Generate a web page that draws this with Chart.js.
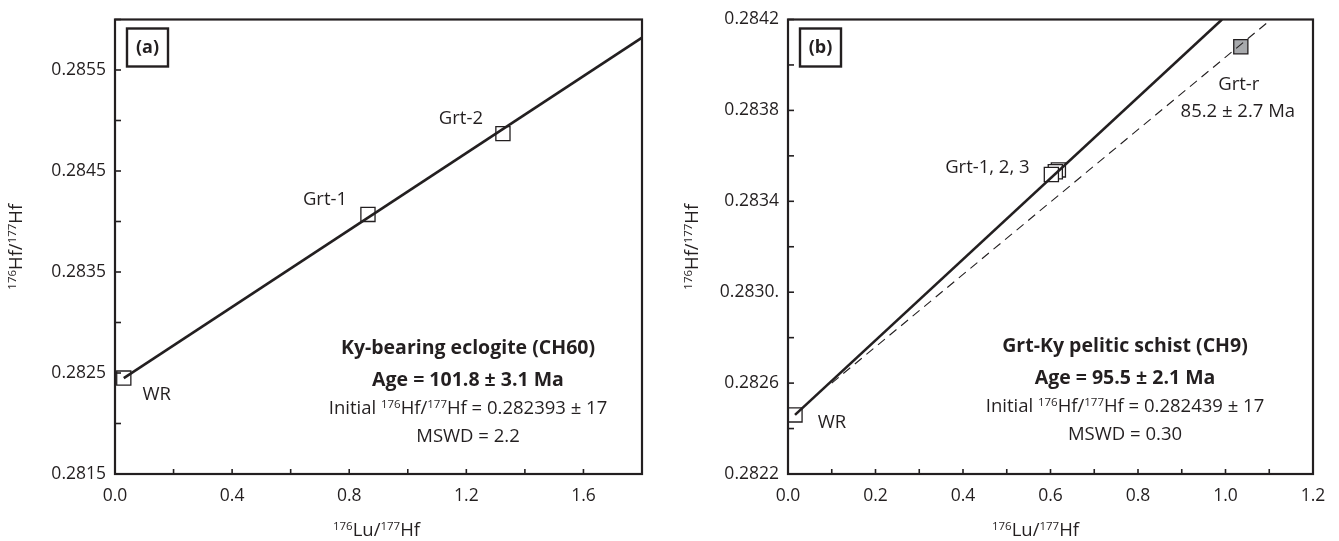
<!DOCTYPE html>
<html>
<head>
<meta charset="utf-8">
<style>
  html, body { margin: 0; padding: 0; background: #fff; }
  #wrap { position: relative; width: 1339px; height: 541px; }
  #wrap canvas { position: absolute; top: 0; }
</style>
</head>
<body>
<div id="wrap">
  <canvas id="chartA" width="660" height="541" style="left:0px"></canvas>
  <canvas id="chartB" width="679" height="541" style="left:660px"></canvas>
</div>

<script src="https://cdn.jsdelivr.net/npm/chart.js"></script>

<script>
  // panel (a): Ky-bearing eclogite
  const wrA = [{ x: 0.03, y: 0.28245 }]
  const grtA = [{ x: 0.864, y: 0.28407 }, { x: 1.325, y: 0.28487 }]
  const grtALabels = ['Grt-1', 'Grt-2']
  const isoA = [{ x: 0.03, y: 0.28245 }, { x: 1.8, y: 0.28582 }]

  // panel (b): Grt-Ky pelitic schist
  const wrB = [{ x: 0.016, y: 0.28246 }]
  // drawn back to front: Grt-3, Grt-2, Grt-1
  const grtB = [{ x: 0.618, y: 0.283538 }, { x: 0.611, y: 0.28353 }, { x: 0.602, y: 0.283518 }]
  const grtR = [{ x: 1.035, y: 0.28408 }]
  const isoB = [{ x: 0.016, y: 0.28246 }, { x: 0.992, y: 0.2842 }]
  const isoR = [{ x: 0.1, y: 0.2826 }, { x: 1.104, y: 0.2842 }]

  const INK = '#231f20'
  const FONT = "'Open Sans', 'Noto Sans', sans-serif"

  // text drawn with superscripts: parts = [[text, isSup], ...]
  function richText(ctx, parts, x, y, size, bold, align) {
    const w = bold ? 'bold ' : ''
    let total = 0
    parts.forEach(p => {
      ctx.font = w + (p[1] ? size * 0.62 : size) + 'px ' + FONT
      total += ctx.measureText(p[0]).width
    })
    let cx = align === 'left' ? x : x - total / 2
    ctx.textAlign = 'left'
    ctx.textBaseline = 'alphabetic'
    parts.forEach(p => {
      ctx.font = w + (p[1] ? size * 0.62 : size) + 'px ' + FONT
      ctx.fillText(p[0], cx, p[1] ? y - size * 0.33 : y)
      cx += ctx.measureText(p[0]).width
    })
  }

  function plainText(ctx, s, x, y, size, bold) {
    ctx.font = (bold ? 'bold ' : '') + size + 'px ' + FONT
    ctx.textAlign = 'center'
    ctx.textBaseline = 'middle'
    ctx.fillText(s, x, y)
  }

  const hfTitle = [['176', true], ['Hf/', false], ['177', true], ['Hf', false]]
  const luTitle = [['176', true], ['Lu/', false], ['177', true], ['Hf', false]]

  // frame, inward tick marks, axis titles, panel letter
  const framePlugin = {
    id: 'frame',
    afterDraw(chart, args, opts) {
      const ctx = chart.ctx
      const a = chart.chartArea
      const xs = chart.scales.x, ys = chart.scales.y
      ctx.save()
      ctx.strokeStyle = INK
      ctx.fillStyle = INK
      ctx.lineWidth = 1.6
      xs.ticks.forEach(t => {
        const px = xs.getPixelForValue(t.value)
        ctx.beginPath(); ctx.moveTo(px, a.bottom); ctx.lineTo(px, a.bottom - 5); ctx.stroke()
      })
      ys.ticks.forEach(t => {
        const py = ys.getPixelForValue(t.value)
        ctx.beginPath(); ctx.moveTo(a.left, py); ctx.lineTo(a.left + 6, py); ctx.stroke()
      })
      ctx.lineWidth = 2.2
      ctx.strokeRect(a.left, a.top, a.right - a.left, a.bottom - a.top)

      // panel letter box
      ctx.lineWidth = 2.4
      ctx.strokeRect(a.left + 12, a.top + 9, 41, 38)
      plainText(ctx, opts.letter, a.left + 32.5, a.top + 28, 18, true)

      // axis titles
      richText(ctx, luTitle, (a.left + a.right) / 2 + opts.xTitleDx, 536, 18.5, false)
      ctx.save()
      ctx.translate(opts.yTitleX, (a.top + a.bottom) / 2)
      ctx.rotate(-Math.PI / 2)
      richText(ctx, hfTitle, 0, 6, 18.5, false)
      ctx.restore()

      // point labels and age summary
      opts.labels.forEach(l => {
        const px = xs.getPixelForValue(l.x) + l.dx
        const py = ys.getPixelForValue(l.y) + l.dy
        plainText(ctx, l.text, px, py, 18.5, false)
      })
      const s = opts.summary
      plainText(ctx, s[0], s.cx, s.y0, 19.5, true)
      plainText(ctx, s[1], s.cx, s.y0 + 32, 19.5, true)
      richText(ctx, s[2], s.cx, s.y0 + 66, 18.5, false)
      plainText(ctx, s[3], s.cx, s.y0 + 89, 18.5, false)
      ctx.restore()
    }
  }

  function squares(data, fill) {
    return {
      data: data,
      pointStyle: 'rect',
      pointRadius: 10,
      pointHoverRadius: 10,
      pointBackgroundColor: fill,
      pointBorderColor: INK,
      pointBorderWidth: 1.3,
      showLine: false,
      clip: false
    }
  }

  function line(data, dash, width) {
    return {
      data: data,
      showLine: true,
      pointRadius: 0,
      borderColor: INK,
      borderWidth: width,
      borderDash: dash,
      fill: false
    }
  }

  function axes(xMin, xMax, xStep, xLabel, yMin, yMax, yStep, yLabel, yWidth) {
    return {
      x: {
        type: 'linear', min: xMin, max: xMax,
        grid: { display: false, drawTicks: false },
        border: { display: false },
        afterFit: s => { s.height = 67 },
        ticks: {
          stepSize: xStep, padding: 12, color: INK,
          font: { family: FONT, size: 17.5 },
          callback: (v, i) => xLabel(v, i)
        }
      },
      y: {
        type: 'linear', min: yMin, max: yMax,
        grid: { display: false, drawTicks: false },
        border: { display: false },
        afterFit: s => { s.width = yWidth },
        ticks: {
          stepSize: yStep, padding: 9, color: INK,
          font: { family: FONT, size: 17.5 },
          callback: (v, i) => yLabel(v, i)
        }
      }
    }
  }

  new Chart(document.getElementById('chartA'), {
    type: 'scatter',
    data: {
      datasets: [
        line(isoA, [], 2.6),
        squares(wrA, '#ffffff'),
        squares(grtA, '#ffffff')
      ]
    },
    options: {
      responsive: false,
      animation: false,
      devicePixelRatio: 1,
      layout: { padding: { left: 0, right: 18, top: 15, bottom: 0 } },
      plugins: {
        legend: { display: false }, tooltip: { enabled: false },
        frame: {
          letter: '(a)',
          yTitleX: 16,
          xTitleDx: -2,
          labels: [
            { text: 'WR', x: wrA[0].x, y: wrA[0].y, dx: 33, dy: 17 },
            { text: grtALabels[0], x: grtA[0].x, y: grtA[0].y, dx: -43, dy: -15 },
            { text: grtALabels[1], x: grtA[1].x, y: grtA[1].y, dx: -42, dy: -15 }
          ],
          summary: Object.assign([
            'Ky-bearing eclogite (CH60)',
            'Age = 101.8 ± 3.1 Ma',
            [['Initial ', false], ['176', true], ['Hf/', false], ['177', true], ['Hf = 0.282393 ± 17', false]],
            'MSWD = 2.2'
          ], { cx: 468, y0: 348 })
        }
      },
      scales: axes(0, 1.8, 0.2, (v, i) => i % 2 === 0 && v < 1.79 ? v.toFixed(1) : '',
        0.2815, 0.2860, 0.0005,
        (v, i) => i % 2 === 0 && v < 0.28595 ? v.toFixed(4) : '', 115)
    },
    plugins: [framePlugin]
  })

  new Chart(document.getElementById('chartB'), {
    type: 'scatter',
    data: {
      datasets: [
        line(isoR, [9, 6], 1.1),
        line(isoB, [], 2.6),
        squares(wrB, '#ffffff'),
        squares(grtB, '#ffffff'),
        squares(grtR, '#a7a9ac')
      ]
    },
    options: {
      responsive: false,
      animation: false,
      devicePixelRatio: 1,
      layout: { padding: { left: 0, right: 26, top: 15, bottom: 0 } },
      plugins: {
        legend: { display: false }, tooltip: { enabled: false },
        frame: {
          letter: '(b)',
          yTitleX: 32,
          xTitleDx: -15,
          labels: [
            { text: 'WR', x: wrB[0].x, y: wrB[0].y, dx: 37, dy: 8 },
            { text: 'Grt-1, 2, 3', x: grtB[2].x, y: grtB[2].y, dx: -64, dy: -7 },
            { text: 'Grt-r', x: grtR[0].x, y: grtR[0].y, dx: -2, dy: 38 },
            { text: '85.2 ± 2.7 Ma', x: grtR[0].x, y: grtR[0].y, dx: -3, dy: 65 }
          ],
          summary: Object.assign([
            'Grt-Ky pelitic schist (CH9)',
            'Age = 95.5 ± 2.1 Ma',
            [['Initial ', false], ['176', true], ['Hf/', false], ['177', true], ['Hf = 0.282439 ± 17', false]],
            'MSWD = 0.30'
          ], { cx: 465, y0: 346 })
        }
      },
      scales: axes(0, 1.2, 0.1, (v, i) => i % 2 === 0 ? v.toFixed(1) : '',
        0.2822, 0.2842, 0.0002,
        (v, i) => i % 2 === 0 ? v.toFixed(4) + (Math.abs(v - 0.283) < 1e-7 ? '.' : '') : '', 128)
    },
    plugins: [framePlugin]
  })
</script>
</body>
</html>
